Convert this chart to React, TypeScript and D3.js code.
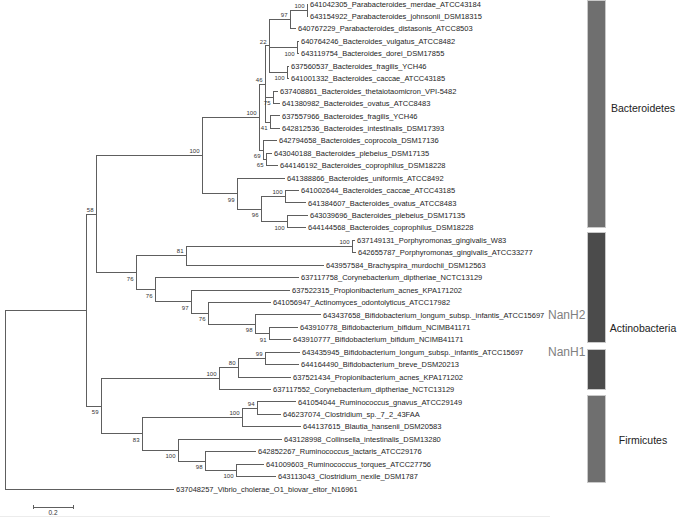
import React from 'react';
import * as d3 from 'd3';

// ---- data ----
const leafNames: string[] = [
  '641042305_Parabacteroides_merdae_ATCC43184',
  '643154922_Parabacteroides_johnsonii_DSM18315',
  '640767229_Parabacteroides_distasonis_ATCC8503',
  '640764246_Bacteroides_vulgatus_ATCC8482',
  '643119754_Bacteroides_dorei_DSM17855',
  '637560537_Bacteroides_fragilis_YCH46',
  '641001332_Bacteroides_caccae_ATCC43185',
  '637408861_Bacteroides_thetaiotaomicron_VPI-5482',
  '641380982_Bacteroides_ovatus_ATCC8483',
  '637557966_Bacteroides_fragilis_YCH46',
  '642812536_Bacteroides_intestinalis_DSM17393',
  '642794658_Bacteroides_coprocola_DSM17136',
  '643040188_Bacteroides_plebeius_DSM17135',
  '644146192_Bacteroides_coprophilus_DSM18228',
  '641388866_Bacteroides_uniformis_ATCC8492',
  '641002644_Bacteroides_caccae_ATCC43185',
  '641384607_Bacteroides_ovatus_ATCC8483',
  '643039696_Bacteroides_plebeius_DSM17135',
  '644144568_Bacteroides_coprophilus_DSM18228',
  '637149131_Porphyromonas_gingivalis_W83',
  '642655787_Porphyromonas_gingivalis_ATCC33277',
  '643957584_Brachyspira_murdochii_DSM12563',
  '637117758_Corynebacterium_diptheriae_NCTC13129',
  '637522315_Propionibacterium_acnes_KPA171202',
  '641056947_Actinomyces_odontolyticus_ATCC17982',
  '643437658_Bifidobacterium_longum_subsp._infantis_ATCC15697',
  '643910778_Bifidobacterium_bifidum_NCIMB41171',
  '643910777_Bifidobacterium_bifidum_NCIMB41171',
  '643435945_Bifidobacterium_longum_subsp._infantis_ATCC15697',
  '644164490_Bifidobacterium_breve_DSM20213',
  '637521434_Propionibacterium_acnes_KPA171202',
  '637117552_Corynebacterium_diptheriae_NCTC13129',
  '641054044_Ruminococcus_gnavus_ATCC29149',
  '646237074_Clostridium_sp._7_2_43FAA',
  '644137615_Blautia_hansenii_DSM20583',
  '643128998_Collinsella_intestinalis_DSM13280',
  '642852267_Ruminococcus_lactaris_ATCC29176',
  '641009603_Ruminococcus_torques_ATCC27756',
  '643113043_Clostridium_nexile_DSM1787',
  '637048257_Vibrio_cholerae_O1_biovar_eltor_N16961',
];

// Newick clades (leaf index #n, bootstrap support as node label, branch lengths)
const cladeNode22 = '(((#0:0.005,#1:0.005)100:0.085,#2:0.03)97:0.105,(#3:0.01,#4:0.01)100:0.14,(#5:0.01,#6:0.01)100:0.09)22';
const cladeNode46 = `(${cladeNode22}:0.02,(#7:0.025,#8:0.035)75:0.04,(#9:0.05,#10:0.05)41:0.025)46`;
const cladeUpperBact = `(${cladeNode46}:0.03,(#11:0.07,(#12:0.03,#13:0.06)65:0.015)69:0.02)100`;
const cladeLowerBact = '(#14:0.24,((#15:0.07,#16:0.105)100:0.12,(#17:0.105,#18:0.095)100:0.13)96:0.12)99';
const cladeBacteroidetes = `(${cladeUpperBact}:0.285,${cladeLowerBact}:0.175)100`;
const cladeNanH2 = '(((#19:0.015,#20:0.02)100:0.83,#21:0.69)81:0.25,(#22:0.72,(#23:0.495,(#24:0.315,(#25:0.33,(#26:0.145,#27:0.11)91:0.07)98:0.235)76:0.085)97:0.18)76:0.095)76';
const cladeA = `(${cladeBacteroidetes}:0.53,${cladeNanH2}:0.2)58`;
const cladeNanH1 = '(((#28:0.175,#29:0.17)99:0.135,#30:0.265)80:0.095,#31:0.26)100';
const cladeFirmicutes = '(((#32:0.195,#33:0.12)94:0.075,#34:0.295)100:0.5,(#35:0.52,(#36:0.255,(#37:0.14,#38:0.2)100:0.155)98:0.135)100:0.18)83';
const cladeB = `(${cladeNanH1}:0.59,${cladeFirmicutes}:0.205)59`;
const treeNewick = `((${cladeA}:0.05,${cladeB}:0.075):0.405,#39:0.845);`;

// group bars (in leaf-row units)
const barStart: number[] = [-0.3, 18.35, 27.75, 31.5];
const barEnd: number[] = [18.0, 27.25, 31.0, 38.5];
const barDark: boolean[] = [false, true, true, false];

const phylaNames: string[] = ['Bacteroidetes', 'Actinobacteria', 'Firmicutes'];
const phylaRow: number[] = [8.36, 26.05, 35.1];

const geneNames: string[] = ['NanH2', 'NanH1'];
const geneRow: number[] = [25, 28];

const scaleBarValue = 0.2;

// ---- parsing ----
type TNode = { name: string; length: number; children: TNode[] };
function parseNewick(src: string): TNode {
  const s = src.replace(/\s+/g, '');
  let i = 0;
  function node(): TNode {
    const n: TNode = { name: '', length: 0, children: [] };
    if (s[i] === '(') {
      i++;
      n.children.push(node());
      while (s[i] === ',') { i++; n.children.push(node()); }
      i++;
    }
    let st = i;
    while (i < s.length && !',():;'.includes(s[i])) i++;
    n.name = s.slice(st, i);
    if (s[i] === ':') {
      i++; st = i;
      while (i < s.length && !',();'.includes(s[i])) i++;
      n.length = parseFloat(s.slice(st, i));
    }
    return n;
  }
  return node();
}

const FONT = '"Liberation Sans", Arial, Helvetica, sans-serif';

export default function App() {
  const W = 685, H = 517;
  const root = d3.hierarchy<TNode>(parseNewick(treeNewick), d => (d.children.length ? d.children : null));
  const xScale = d3.scaleLinear().domain([0, 1]).range([5, 205]);
  const yScale = d3.scaleLinear().domain([0, leafNames.length - 1]).range([4, 489]);

  const dist = new Map<any, number>();
  const ypos = new Map<any, number>();
  root.eachBefore(n => {
    dist.set(n, n.parent ? dist.get(n.parent)! + n.data.length : 0);
  });
  root.eachAfter(n => {
    if (n.children) {
      ypos.set(n, (ypos.get(n.children[0])! + ypos.get(n.children[n.children.length - 1])!) / 2);
    } else {
      const idx = parseInt(n.data.name.slice(1), 10);
      ypos.set(n, yScale(idx));
    }
  });

  const nodes = root.descendants();
  const stroke = '#5e5e5e';

  const lines: JSX.Element[] = [];
  const labels: JSX.Element[] = [];
  nodes.forEach((n, k) => {
    const x = xScale(dist.get(n)!);
    const y = ypos.get(n)!;
    if (n.parent) {
      const px = xScale(dist.get(n.parent)!);
      lines.push(<line key={'h' + k} x1={px} x2={x} y1={y} y2={y} stroke={stroke} strokeWidth={1} />);
    }
    if (n.children) {
      const y1 = ypos.get(n.children[0])!;
      const y2 = ypos.get(n.children[n.children.length - 1])!;
      lines.push(<line key={'v' + k} x1={x} x2={x} y1={y1} y2={y2} stroke={stroke} strokeWidth={1} />);
      if (n.data.name && n.parent) {
        const first = n.parent.children![0] === n;
        labels.push(
          <text key={'b' + k} x={x - 2.5} y={first ? y - 2.4 : y + 8} fontSize={6} textAnchor="end" fill="#333" fontFamily={FONT}>
            {n.data.name}
          </text>
        );
      }
    } else {
      const idx = parseInt(n.data.name.slice(1), 10);
      labels.push(
        <text key={'l' + k} x={x + 2} y={y} dy="0.35em" fontSize={7.5} fill="#1e1e1e" fontFamily={FONT}>
          {leafNames[idx]}
        </text>
      );
    }
  });

  const sbX1 = xScale(0) + 28;
  const sbX2 = sbX1 + (xScale(scaleBarValue) - xScale(0));
  const sbY = 507;

  return (
    <svg width={W} height={H} style={{ position: 'absolute', left: 0, top: 0, background: '#fff' }}>
      <rect x={0} y={0} width={W} height={H} fill="#fff" />
      <g shapeRendering="crispEdges">{lines}</g>
      <g>{labels}</g>
      {barStart.map((s, i) => (
        <rect key={'bar' + i} x={587} y={yScale(s)} width={18} height={yScale(barEnd[i]) - yScale(s)}
          fill={barDark[i] ? '#4b4b4b' : '#6f6f6f'} stroke="#c9c9c9" strokeWidth={1} shapeRendering="crispEdges" />
      ))}
      {phylaNames.map((p, i) => (
        <text key={'p' + i} x={643} y={yScale(phylaRow[i])} dy="0.35em" textAnchor="middle" fontSize={10.5} fill="#222" fontFamily={FONT}>{p}</text>
      ))}
      {geneNames.map((g, i) => (
        <text key={'g' + i} x={548} y={yScale(geneRow[i])} dy="0.35em" fontSize={12} fill="#808080" fontFamily={FONT}>{g}</text>
      ))}
      <g stroke={stroke} strokeWidth={1} shapeRendering="crispEdges">
        <line x1={sbX1} x2={sbX2} y1={sbY} y2={sbY} />
        <line x1={sbX1} x2={sbX1} y1={sbY - 2} y2={sbY + 2} />
        <line x1={sbX2} x2={sbX2} y1={sbY - 2} y2={sbY + 2} />
      </g>
      <text x={(sbX1 + sbX2) / 2} y={515} textAnchor="middle" fontSize={6.5} fill="#333" fontFamily={FONT}>{String(scaleBarValue)}</text>
      <line x1={0} x2={550} y1={516.5} y2={516.5} stroke="#ececec" strokeWidth={1} />
    </svg>
  );
}
